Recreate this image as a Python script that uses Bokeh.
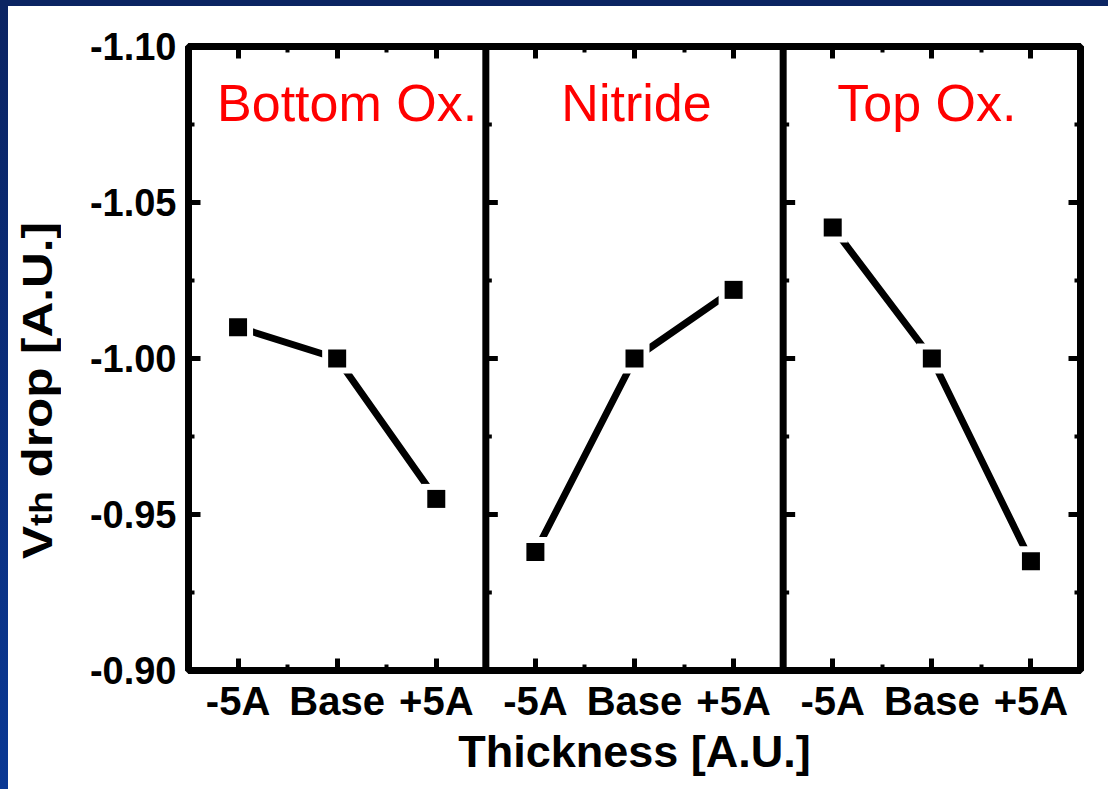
from bokeh.core.properties import value
from bokeh.embed import file_html
from bokeh.layouts import column, row
from bokeh.models import (CustomJSTickFormatter, Div, FixedTicker,
                          LinearAxis, PrintfTickFormatter, Range1d, Span)
from bokeh.plotting import figure
from bokeh.resources import INLINE

# ---- data -------------------------------------------------------------
categories = ["-5A", "Base", "+5A"]
panels = ["Bottom Ox.", "Nitride", "Top Ox."]
bottom_ox = [-1.010, -1.000, -0.955]
nitride = [-0.938, -1.000, -1.022]
top_ox = [-1.042, -1.000, -0.935]
y_ticks = [-1.10, -1.05, -1.00, -0.95, -0.90]
y_minor = [-1.075, -1.025, -0.975, -0.925]
series = [bottom_ox, nitride, top_ox]

# ---- geometry ---------------------------------------------------------
STRIP_L, STRIP_T = 8, 6
TITLE_W = 60
W, H = 1100 - TITLE_W, 783
LEFT, RIGHT, TOP, BOTTOM = 120, 28, 40, 119
FRAME_W = W - LEFT - RIGHT
FRAME_H = H - TOP - BOTTOM
n = len(categories)
x_start, x_end = -0.5, len(panels) * n - 0.5
FONT = "Liberation Sans"
LW = 7


def fy(py):
    """page pixel row -> y data value (axis runs -1.10 at top to -0.90 at bottom)"""
    return y_ticks[0] + (py - STRIP_T - TOP) / FRAME_H * (y_ticks[-1] - y_ticks[0])


px_per_x = FRAME_W / (x_end - x_start)

p = figure(width=W, height=H, output_backend="svg", toolbar_location=None,
           x_range=Range1d(x_start, x_end),
           y_range=Range1d(y_ticks[-1], y_ticks[0]),
           min_border_left=LEFT, min_border_right=RIGHT,
           min_border_top=TOP, min_border_bottom=BOTTOM,
           margin=(0, 0, 0, 0))
p.grid.visible = False
p.background_fill_color = "white"
p.border_fill_color = "white"
p.outline_line_color = "black"
p.outline_line_width = LW

x_major = list(range(len(panels) * n))
x_minor = [k * n + i + 0.5 for k in range(len(panels)) for i in range(n - 1)]
x_ticker = FixedTicker(ticks=x_major, minor_ticks=x_minor)
y_ticker = FixedTicker(ticks=y_ticks, minor_ticks=y_minor)

cat_formatter = CustomJSTickFormatter(
    args=dict(labels=categories),
    code="return labels[Math.round(tick) % labels.length];")
blank = CustomJSTickFormatter(code="return '';")


def style_axis(ax):
    ax.axis_line_width = LW
    ax.axis_line_color = "black"
    ax.major_tick_in = 12
    ax.major_tick_out = 0
    ax.minor_tick_in = 6
    ax.minor_tick_out = 0
    ax.major_tick_line_width = 5
    ax.minor_tick_line_width = 4
    ax.major_tick_line_color = "black"
    ax.minor_tick_line_color = "black"
    ax.major_label_text_font = FONT
    ax.major_label_text_font_style = "bold"
    ax.major_label_text_color = "black"


# bottom axis
xa = p.xaxis[0]
xa.ticker = x_ticker
xa.formatter = cat_formatter
style_axis(xa)
xa.major_label_text_font_size = "40px"
xa.major_label_standoff = 8
xa.axis_label = "Thickness [A.U.]"
xa.axis_label_text_font = FONT
xa.axis_label_text_font_style = "bold"
xa.axis_label_text_font_size = "45px"
xa.axis_label_text_color = "black"
xa.axis_label_standoff = 0

# left axis
ya = p.yaxis[0]
ya.ticker = y_ticker
ya.formatter = PrintfTickFormatter(format="%.2f")
style_axis(ya)
ya.major_label_text_font_size = "38px"
ya.major_label_standoff = 12

# mirrored top / right axes, ticks only
top_ax = LinearAxis(ticker=x_ticker, formatter=blank, major_label_standoff=0)
style_axis(top_ax)
p.add_layout(top_ax, "above")
right_ax = LinearAxis(ticker=y_ticker, formatter=blank, major_label_standoff=0)
style_axis(right_ax)
p.add_layout(right_ax, "right")

# panel separators with their inward ticks
for k in range(1, len(panels)):
    sep = k * n - 0.5
    p.add_layout(Span(location=sep, dimension="height", line_color="black", line_width=LW))
    p.segment(x0=[sep] * len(y_ticks), y0=y_ticks,
              x1=[sep + 12 / px_per_x] * len(y_ticks), y1=y_ticks,
              line_color="black", line_width=5)
    p.segment(x0=[sep] * len(y_minor), y0=y_minor,
              x1=[sep + 6 / px_per_x] * len(y_minor), y1=y_minor,
              line_color="black", line_width=4)

# series: line, white halo, square marker
for k, vals in enumerate(series):
    xs = [k * n + i for i in range(n)]
    p.line(xs, vals, line_color="black", line_width=LW)
    p.scatter(xs, vals, marker="square", size=30, fill_color="white", line_color=None)
    p.scatter(xs, vals, marker="square", size=18, fill_color="black", line_color=None)

# panel titles
title_shift = [0.10, 0.02, -0.05]
p.text(x=[k * n + 1 + title_shift[k] for k in range(len(panels))],
       y=[fy(102)] * len(panels), text=panels,
       text_color="#ff0000", text_font=value(FONT), text_font_size="52px",
       text_align="center", text_baseline="alphabetic")

# rotated y axis title with subscript
ytitle_html = (
    '<div style="writing-mode: vertical-rl; transform: rotate(180deg) scale(1, 1.15); '
    "font-family: 'Liberation Sans'; font-weight: bold; font-size: 43px; "
    'line-height: 43px; white-space: nowrap; color: black; '
    'margin-top: 238px; margin-left: 8px;">'
    'V<sub style="font-size: 32px; vertical-align: -4px;">th</sub> drop [A.U.]</div>'
)
ytitle = Div(text=ytitle_html, width=TITLE_W, height=H, margin=(0, 0, 0, 0))

top_strip = Div(text="", width=STRIP_L + TITLE_W + W, height=STRIP_T, margin=(0, 0, 0, 0),
                styles={"background-color": "#0b2462"})
left_strip = Div(text="", width=STRIP_L, height=H, margin=(0, 0, 0, 0),
                 styles={"background": "linear-gradient(to bottom, #0b2463, #0a3894)"})
layout = column(top_strip, row(left_strip, ytitle, p, spacing=0, margin=(0, 0, 0, 0)),
                spacing=0, margin=(0, 0, 0, 0))

open("out.html", "w").write(file_html(layout, INLINE))
